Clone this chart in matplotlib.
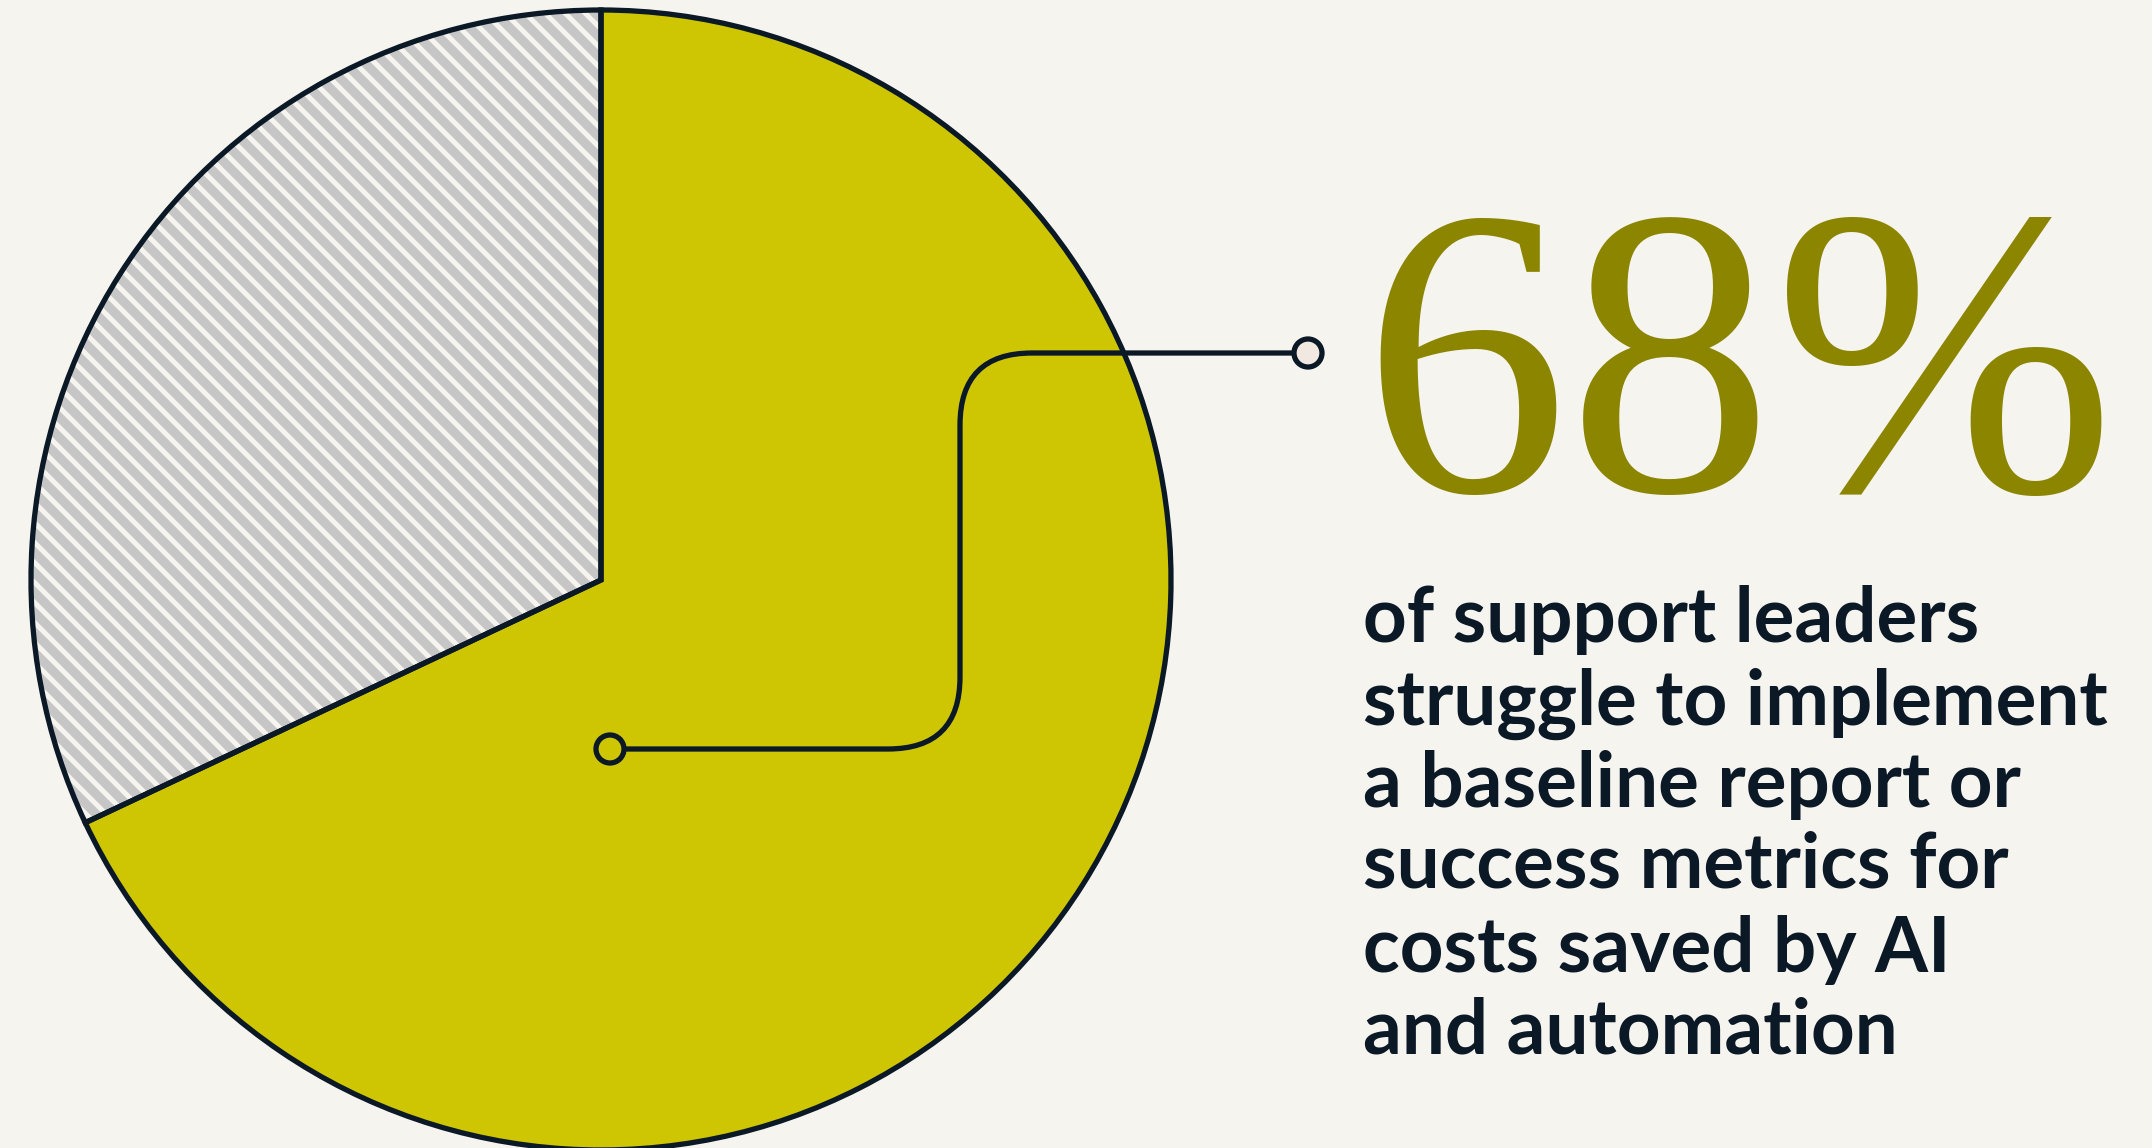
import numpy as np
import matplotlib.pyplot as plt
from matplotlib.path import Path
from matplotlib.patches import PathPatch, Circle
from matplotlib.collections import LineCollection

# --- DATA ---
shares = [68, 32]
share_label = "68%"
caption_lines = [
    "of support leaders",
    "struggle to implement",
    "a baseline report or",
    "success metrics for",
    "costs saved by AI",
    "and automation",
]

# --- STYLE ---
BG = "#f6f4ef"
NAVY = "#0b1826"
YELLOW = "#cec603"
OLIVE = "#8b8500"
STRIPE = "#c6c6c6"
W, H = 2152, 1148


def main():
    fig = plt.figure(figsize=(W / 100, H / 100), dpi=100, facecolor=BG)
    ax = fig.add_axes([0, 0, 1, 1])
    ax.set_facecolor(BG)

    centre = (601, 568)
    radius = 570

    # filled wedges first, outline drawn separately on top
    wedges, _ = ax.pie(shares, startangle=90, counterclock=False,
                       center=centre, radius=radius,
                       colors=[YELLOW, STRIPE],
                       wedgeprops=dict(linewidth=0))

    # light diagonal stripes over the grey slice, clipped to it
    step = 20
    offsets = np.arange(-400, 2400, step)
    segs = [[(-100, c + 100), (1400, c - 1400)] for c in offsets]
    stripes = LineCollection(segs, colors=BG, linewidths=3.6, zorder=2)
    ax.add_collection(stripes)
    stripes.set_clip_path(wedges[1])

    # outlines on top
    ax.pie(shares, startangle=90, counterclock=False,
           center=centre, radius=radius,
           colors=["none", "none"],
           wedgeprops=dict(edgecolor=NAVY, linewidth=3.8, fill=False,
                           zorder=3))

    # connector from the slice to the big number
    r = 72
    x0, y0 = 625, 399
    xv = 960
    y1 = 795
    verts = [
        (x0, y0), (xv - r, y0),
        (xv, y0), (xv, y0 + r),
        (xv, y1 - r),
        (xv, y1), (xv + r, y1),
        (1293, y1),
    ]
    codes = [Path.MOVETO, Path.LINETO,
             Path.CURVE3, Path.CURVE3,
             Path.LINETO,
             Path.CURVE3, Path.CURVE3,
             Path.LINETO]
    ax.add_patch(PathPatch(Path(verts, codes), fill=False, zorder=4,
                           edgecolor=NAVY, linewidth=3.8, capstyle="round"))
    ax.add_patch(Circle((610, 399), 14, facecolor="none", zorder=4,
                        edgecolor=NAVY, linewidth=3.8))
    ax.add_patch(Circle((1308, 795), 14, facecolor="#f1e9e1", zorder=4,
                        edgecolor=NAVY, linewidth=3.8))

    # big number
    ax.text(1362, 657, share_label, family="Liberation Serif",
            fontsize=296, color=OLIVE, ha="left", va="baseline")

    # caption
    baselines = [506, 423, 341, 260, 176, 95]
    for line, yb in zip(caption_lines, baselines):
        ax.text(1363, yb, line, family="Lato", fontweight="bold",
                fontsize=55, color=NAVY, ha="left", va="baseline")

    ax.set_xlim(0, W)
    ax.set_ylim(0, H)
    ax.set_aspect("equal")
    ax.axis("off")

    fig.savefig("out.png", dpi=100, facecolor=BG)


if __name__ == "__main__":
    main()
